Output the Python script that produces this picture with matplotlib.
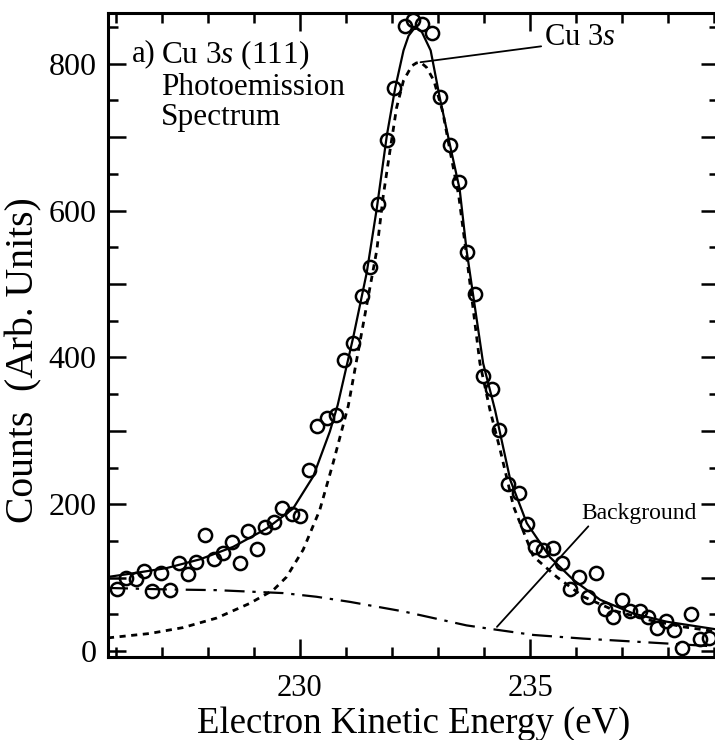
import matplotlib
matplotlib.use("Agg")
import matplotlib.pyplot as plt
from matplotlib.ticker import MultipleLocator, FuncFormatter

plt.rcParams['font.family'] = ['Liberation Serif', 'DejaVu Serif']
plt.rcParams['mathtext.fontset'] = 'custom'
plt.rcParams['mathtext.rm'] = 'Liberation Serif'
plt.rcParams['mathtext.it'] = 'Liberation Serif:italic'

# measured photoemission points
energy = [226.03, 226.23, 226.43, 226.61, 226.79, 226.99, 227.17, 227.38, 227.56, 227.75,
          227.93, 228.13, 228.32, 228.52, 228.70, 228.88, 229.06, 229.25, 229.44, 229.62,
          229.82, 230.00, 230.20, 230.38, 230.58, 230.78, 230.96, 231.15, 231.34, 231.52,
          231.70, 231.89, 232.04, 232.29, 232.46, 232.65, 232.86, 233.05, 233.26, 233.45,
          233.62, 233.80, 233.98, 234.18, 234.33, 234.53, 234.76, 234.93, 235.11, 235.29,
          235.49, 235.69, 235.87, 236.07, 236.25, 236.43, 236.62, 236.80, 236.99, 237.17,
          237.38, 237.57, 237.75, 237.95, 238.13, 238.31, 238.49, 238.70, 238.88]
counts = [85, 100, 98, 109, 82, 107, 83, 120, 105, 121,
          158, 126, 134, 149, 120, 163, 139, 169, 176, 195,
          187, 184, 247, 307, 317, 321, 396, 419, 484, 523,
          609, 696, 767, 852, 859, 854, 842, 755, 689, 639,
          543, 487, 375, 357, 301, 228, 215, 173, 142, 138,
          141, 120, 85, 101, 73, 106, 58, 47, 70, 55,
          54, 47, 32, 41, 29, 4, 50, 17, 18]

# total fit (solid)
fit_e = [225.83, 226.38, 227.10, 227.83, 228.55, 229.28, 229.85, 230.29, 230.65, 230.82,
         231.16, 231.45, 231.67, 231.89, 232.07, 232.25, 232.36, 232.47, 232.56, 232.65,
         232.84, 233.04, 233.26, 233.47, 233.62, 233.98, 234.24, 234.57, 234.93, 235.43,
         235.94, 236.52, 237.25, 237.97, 239.11]
fit_c = [101, 106, 113, 125, 142, 167, 194, 238, 299, 335,
         428, 515, 603, 703, 767, 818, 838, 847, 848, 843,
         818, 753, 689, 629, 546, 392, 328, 233, 174, 128,
         97, 70, 51, 40, 29]

# Cu 3s component (short dashes)
peak_e = [225.83, 226.74, 227.46, 228.19, 228.91, 229.42, 229.71, 230.07, 230.43, 230.72,
          231.05, 231.38, 231.67, 231.81, 231.96, 232.10, 232.25, 232.43, 232.53, 232.62,
          232.75, 232.91, 233.10, 233.28, 233.45, 233.60, 233.91, 234.13, 234.35, 234.64,
          235.07, 235.58, 236.16, 236.88, 237.61, 238.33, 239.11]
peak_c = [18, 24, 32, 45, 65, 83, 101, 138, 192, 256,
          334, 447, 546, 620, 683, 740, 777, 797, 801, 802,
          795, 777, 735, 675, 620, 548, 392, 328, 274, 197,
          129, 101, 74, 54, 42, 33, 26]

# background (dash-dot)
bg_e = [225.83, 227.10, 228.19, 228.91, 229.64, 230.36, 231.09, 232.25, 232.90, 233.62,
        234.28, 235.07, 236.16, 237.25, 238.33, 239.11]
bg_c = [86, 84, 83, 81, 79, 74, 67, 54, 45, 35,
        29, 22, 17, 13, 9, 6]

fig = plt.figure(figsize=(7.15, 7.4), dpi=100)
ax = fig.add_axes([0.151, 0.1122, 0.855, 0.8702])

ax.plot(fit_e, fit_c, color='black', lw=1.6)
ax.plot(peak_e, peak_c, color='black', lw=2.0, linestyle=(0, (2.2, 2.0)))
ax.plot(bg_e, bg_c, color='black', lw=1.6, linestyle=(0, (9, 3.5, 1.5, 3.5)))
ax.plot(energy, counts, 'o', mfc='none', mec='black', ms=9.5, mew=1.8)

ax.set_xlim(225.83, 239.11)
ax.set_ylim(-8, 869)

ax.xaxis.set_major_locator(MultipleLocator(5))
ax.xaxis.set_minor_locator(MultipleLocator(1))
ax.yaxis.set_major_locator(MultipleLocator(100))
ax.yaxis.set_minor_locator(MultipleLocator(50))
ax.yaxis.set_major_formatter(FuncFormatter(lambda v, p: f"{int(v)}" if int(round(v)) % 200 == 0 else ""))

ax.tick_params(which='both', direction='in', top=True, right=True, width=1.8, colors='black')
ax.tick_params(which='major', length=13, labelsize=23)
ax.tick_params(which='minor', length=7)
ax.tick_params(axis='x', which='major', pad=12, labelsize=22)
ax.tick_params(axis='y', which='major', pad=8)
for s in ax.spines.values():
    s.set_linewidth(2.2)

ax.set_xlabel("Electron Kinetic Energy (eV)", fontsize=26.5, labelpad=3)
ax.set_ylabel("Counts  (Arb. Units)", fontsize=28.5)
ax.yaxis.set_label_coords(-0.108, 0.461)

ax.text(226.34, 813, "a)", fontsize=22, ha='left', va='center')
ax.text(226.99, 834, "Cu 3$s$ (111)\nPhotoemission\nSpectrum", fontsize=22.5,
        ha='left', va='top', linespacing=1.05)

ax.annotate("Cu 3$s$", xy=(232.62, 802), xytext=(235.30, 836), fontsize=22,
            ha='left', va='center',
            arrowprops=dict(arrowstyle='-', color='black', lw=1.3,
                            shrinkA=0, shrinkB=0, relpos=(0, 0.2)))
ax.annotate("Background", xy=(234.28, 33), xytext=(236.12, 188), fontsize=17,
            ha='left', va='center',
            arrowprops=dict(arrowstyle='-', color='black', lw=1.3,
                            shrinkA=0, shrinkB=0, relpos=(0.08, 0)))

fig.savefig("out.png", dpi=100)
